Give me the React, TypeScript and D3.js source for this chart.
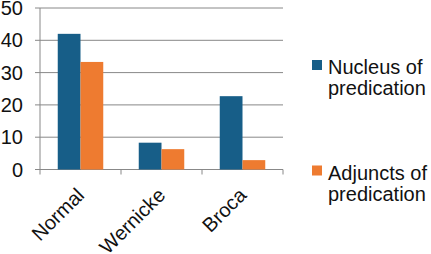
import React from "react";
import * as d3 from "d3";

const categories = ["Normal", "Wernicke", "Broca"];
const seriesNames = ["Nucleus of predication", "Adjuncts of predication"];
const nucleus = [42, 8.3, 22.7];
const adjuncts = [33.3, 6.3, 2.9];
const yTicks = [0, 10, 20, 30, 40, 50];

const colors = ["#175E88", "#EE7B30"];
const font = "'Liberation Sans', Arial, sans-serif";

export default function App() {
  const w = 431, h = 254;
  const left = 40, right = 283, top = 8, bottom = 169.5;

  const x = d3.scaleBand().domain(categories).range([left, right]);
  const inner = d3.scaleBand().domain(["0", "1"]).range([0, x.bandwidth()]).paddingOuter(0.78).paddingInner(0);
  const y = d3.scaleLinear().domain([0, 50]).range([bottom, top]);
  const series = [nucleus, adjuncts];

  return (
    <svg width={w} height={h} style={{ position: "absolute", left: 0, top: 0 }}>
      <rect width={w} height={h} fill="#fff" />
      {yTicks.map(t => (
        <g key={t}>
          <line x1={left} x2={right} y1={y(t)} y2={y(t)} stroke="#888" strokeWidth={1} />
          <line x1={left - 5} x2={left} y1={y(t)} y2={y(t)} stroke="#888" />
          <text x={23} y={y(t) + 7} textAnchor="end" fontSize={20} fontFamily={font} fill="#111">{t}</text>
        </g>
      ))}
      <line x1={left} x2={left} y1={top} y2={bottom} stroke="#888" />
      {[...categories.map(c => x(c)!), right].map((px, i) => (
        <line key={i} x1={px} x2={px} y1={bottom} y2={bottom + 5} stroke="#888" />
      ))}
      {series.map((vals, si) =>
        vals.map((v, ci) => (
          <rect key={si + "-" + ci}
            x={x(categories[ci])! + inner(String(si))!}
            y={y(v)}
            width={inner.bandwidth()}
            height={y(0) - y(v)}
            fill={colors[si]} />
        ))
      )}
      {categories.map(c => {
        const cx = x(c)! + x.bandwidth() / 2 + 5;
        const cy = bottom + 27;
        return (
          <text key={c} transform={`translate(${cx},${cy}) rotate(-45)`} textAnchor="end"
            fontSize={20} fontFamily={font} fill="#111">{c}</text>
        );
      })}
      {seriesNames.map((name, i) => {
        const words = name.split(" ");
        const line1 = words.slice(0, 2).join(" ");
        const line2 = words.slice(2).join(" ");
        const sy = i === 0 ? 60 : 165.5;
        return (
          <g key={name}>
            <rect x={312} y={sy} width={10} height={10} fill={colors[i]} />
            <text x={328} y={sy + 14} fontSize={20} fontFamily={font} fill="#111">{line1}</text>
            <text x={328} y={sy + 35} fontSize={20} fontFamily={font} fill="#111">{line2}</text>
          </g>
        );
      })}
    </svg>
  );
}
